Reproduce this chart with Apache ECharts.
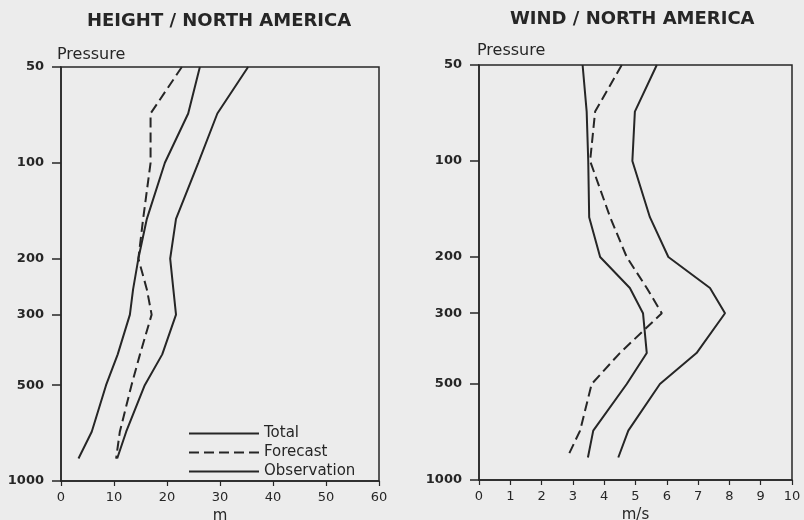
<!DOCTYPE html>
<html>
<head>
<meta charset="utf-8">
<script src="https://cdn.jsdelivr.net/npm/echarts@6/dist/echarts.min.js"></script>
<style>
html,body{margin:0;padding:0;background:#ececec;}
#chart{width:804px;height:520px;}
</style>
</head>
<body>
<div id="chart"></div>
<script>
// Pressure levels (hPa) at which the curves are sampled
var pressureLevels = [50, 70, 100, 150, 200, 250, 300, 400, 500, 700, 850];
// Pressure tick labels
var pressureTicks = [50, 100, 200, 300, 500, 1000];
// Height errors (m)
var heightTotal       = [35.3, 29.5, 25.9, 21.7, 20.6, 21.2, 21.7, 19.1, 15.8, 12.3, 10.6];
var heightForecast    = [22.8, 16.9, 16.9, 15.5, 14.6, 16.2, 17.1, 14.9, 13.3, 11.1, 10.4];
var heightObservation = [26.2, 24.0, 19.6, 16.2, 14.6, 13.6, 13.0, 10.7, 8.5, 5.8, 3.3];
// Wind errors (m/s)
var windTotal       = [5.68, 4.98, 4.90, 5.46, 6.05, 7.38, 7.86, 6.95, 5.78, 4.77, 4.45];
var windForecast    = [4.56, 3.71, 3.55, 4.19, 4.72, 5.36, 5.84, 4.50, 3.60, 3.23, 2.82];
var windObservation = [3.31, 3.44, 3.49, 3.52, 3.87, 4.82, 5.24, 5.36, 4.72, 3.65, 3.48];
// X axis ranges / steps
var heightAxis = {min: 0, max: 60, step: 10};
var windAxis = {min: 0, max: 10, step: 1};

var INK = '#262626';
var FONT = '"DejaVu Sans", "Liberation Sans", Arial, sans-serif';

function pairs(vals) {
  return vals.map(function (v, i) { return [v, Math.log10(pressureLevels[i])]; });
}
function yAxisDef(gi) {
  var tickPos = pressureTicks.map(function (p) { return Math.log10(p); });
  return {
    type: 'value', gridIndex: gi, inverse: true,
    min: Math.log10(50), max: 3,
    axisLine: {show: true, lineStyle: {color: INK, width: 1.5}},
    axisTick: {show: true, length: 9, customValues: tickPos, lineStyle: {color: INK, width: 1.5}},
    axisLabel: {
      customValues: tickPos,
      formatter: function (v) { return String(Math.round(Math.pow(10, v))); },
      color: INK, fontFamily: FONT, fontSize: 13, fontWeight: 'bold', margin: 17
    },
    splitLine: {show: false}
  };
}
function xAxisDef(gi, ax, name) {
  return {
    type: 'value', gridIndex: gi, min: ax.min, max: ax.max, interval: ax.step,
    name: name, nameLocation: 'middle', nameGap: 26,
    nameTextStyle: {color: INK, fontFamily: FONT, fontSize: 15},
    axisLine: {show: true, lineStyle: {color: INK, width: 1.5}},
    axisTick: {show: true, length: 5, lineStyle: {color: INK, width: 1.2}},
    axisLabel: {color: INK, fontFamily: FONT, fontSize: 13, margin: 10},
    splitLine: {show: false}
  };
}
function lineSeries(name, vals, gi, dashed) {
  return {
    name: name, type: 'line', xAxisIndex: gi, yAxisIndex: gi,
    data: pairs(vals), symbol: 'none', showSymbol: false, silent: true,
    lineStyle: {color: INK, width: 2, type: dashed ? [10, 5] : 'solid'},
    itemStyle: {color: INK}
  };
}

var chart = echarts.init(document.getElementById('chart'));
chart.setOption({
  backgroundColor: '#ececec',
  animation: false,
  grid: [
    {left: 61, top: 67, width: 318, height: 414, outerBoundsMode: 'none', containLabel: false, show: true, borderColor: INK, borderWidth: 1.5, backgroundColor: 'transparent'},
    {left: 479, top: 65, width: 313, height: 415, outerBoundsMode: 'none', containLabel: false, show: true, borderColor: INK, borderWidth: 1.5, backgroundColor: 'transparent'}
  ],
  xAxis: [xAxisDef(0, heightAxis, 'm'), xAxisDef(1, windAxis, 'm/s')],
  yAxis: [yAxisDef(0), yAxisDef(1)],
  legend: {
    left: 183, top: 421, orient: 'vertical', itemWidth: 70, itemHeight: 14, itemGap: 4,
    data: ['Total', 'Forecast', 'Observation'],
    itemStyle: {opacity: 0},
    textStyle: {color: INK, fontFamily: FONT, fontSize: 15},
    selectedMode: false
  },
  graphic: [
    {type: 'text', left: 87, top: 12, style: {text: 'HEIGHT / NORTH AMERICA', fill: INK, font: 'bold 18px ' + FONT}},
    {type: 'text', left: 510, top: 10, style: {text: 'WIND / NORTH AMERICA', fill: INK, font: 'bold 18px ' + FONT}},
    {type: 'text', left: 57, top: 47, style: {text: 'Pressure', fill: INK, font: '16px ' + FONT}},
    {type: 'text', left: 477, top: 43, style: {text: 'Pressure', fill: INK, font: '16px ' + FONT}}
  ],
  series: [
    lineSeries('Total', heightTotal, 0, false),
    lineSeries('Forecast', heightForecast, 0, true),
    lineSeries('Observation', heightObservation, 0, false),
    lineSeries('Total', windTotal, 1, false),
    lineSeries('Forecast', windForecast, 1, true),
    lineSeries('Observation', windObservation, 1, false)
  ]
});
</script>
</body>
</html>
